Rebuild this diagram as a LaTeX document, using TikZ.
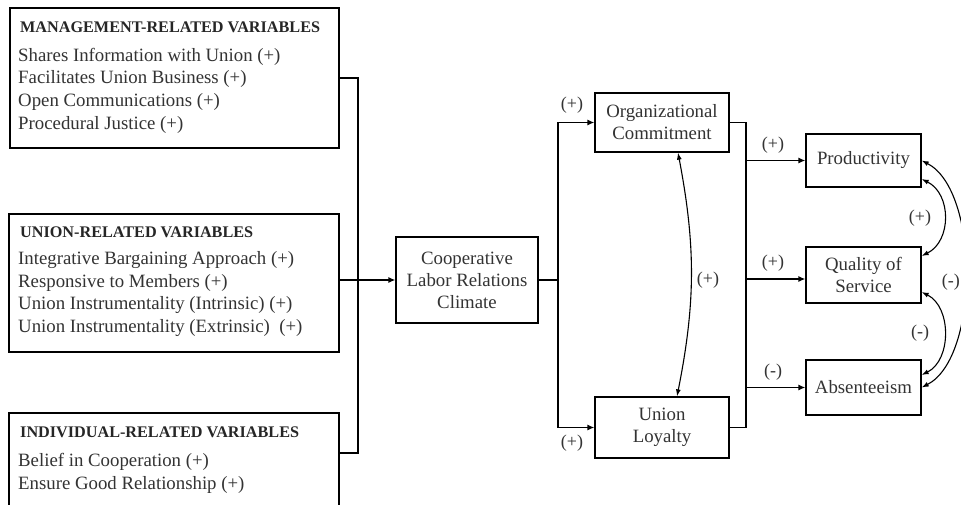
\documentclass[tikz,border=0pt]{standalone}
\usepackage{fontspec}
\setmainfont{Liberation Serif}
\usetikzlibrary{arrows.meta}
\begin{document}
\begin{tikzpicture}[x=1pt,y=-1pt,
 box/.style={draw, line width=1.3pt, inner sep=0pt},
 txt/.style={font=\fontsize{18.8}{22.6}\selectfont, text=black!80, inner sep=0pt, align=left},
 ttl/.style={font=\fontsize{16.2}{18}\selectfont\bfseries, text=black!85, inner sep=0pt},
 ctxt/.style={font=\fontsize{18.8}{22}\selectfont, text=black!80, align=center},
 lbl/.style={font=\fontsize{18}{20}\selectfont, text=black!80, inner sep=0pt},
 conn/.style={line width=1.3pt},
 arr/.style={line width=1.3pt, -{Latex[length=7pt,width=6pt]}},
 darr/.style={line width=1.1pt, {Latex[length=7pt,width=5pt]}-{Latex[length=7pt,width=5pt]}},
]
\useasboundingbox (0,0) rectangle (961,505);
\fill[white] (0,0) rectangle (961,505);

% left boxes
\node[box, minimum width=329pt, minimum height=140pt] (mgmt) at (174.5,78) {};
\node[ttl, anchor=west] (mgmtt) at (20,27) {MANAGEMENT-RELATED VARIABLES};
\node[txt, anchor=west] (mgmtl) at (18,90.5) {Shares Information with Union (+)\\Facilitates Union Business (+)\\Open Communications (+)\\Procedural Justice (+)};

\node[box, minimum width=330pt, minimum height=138pt] (union) at (174,283) {};
\node[ttl, anchor=west] (uniont) at (20,232) {UNION-RELATED VARIABLES};
\node[txt, anchor=west] (unionl) at (18,294) {Integrative Bargaining Approach (+)\\Responsive to Members (+)\\Union Instrumentality (Intrinsic) (+)\\Union Instrumentality (Extrinsic)\ \ (+)};

\node[box, minimum width=330pt, minimum height=107pt] (ind) at (174,466.5) {};
\node[ttl, anchor=west] (indt) at (20,432) {INDIVIDUAL-RELATED VARIABLES};
\node[txt, anchor=west] (indl) at (18,473.5) {Belief in Cooperation (+)\\Ensure Good Relationship (+)};

% middle
\node[box, ctxt, minimum width=142pt, minimum height=86pt] (clr) at (467,280) {Cooperative\\Labor Relations\\Climate};
\node[box, ctxt, minimum width=134pt, minimum height=59pt] (oc) at (662,122.5) {Organizational\\Commitment};
\node[box, ctxt, minimum width=134pt, minimum height=61pt] (ul) at (662,427.5) {Union\\Loyalty};

% right
\node[box, ctxt, minimum width=115pt, minimum height=53pt] (prod) at (863.5,160.5) {Productivity};
\node[box, ctxt, minimum width=115pt, minimum height=56pt] (qual) at (863.5,275) {Quality of\\Service};
\node[box, ctxt, minimum width=115pt, minimum height=55pt] (abs) at (863.5,387.5) {Absenteeism};

% left connectors
\coordinate (jm) at (358,78);
\coordinate (ji) at (358,453);
\draw[conn] (mgmt.east) -- (jm) -- (ji) -- ([yshift=13.5pt]ind.east);
\draw[arr] (union.east |- clr.west) -- (clr.west);

% middle connectors
\coordinate (jl) at (558,280);
\draw[conn] (clr.east) -- (jl);
\draw[arr] (jl) |- (oc.west);
\draw[arr] (jl) |- (ul.west);
\draw[darr] ([xshift=16pt]oc.south) to[bend left=11] ([xshift=15pt]ul.north);

% right connectors
\coordinate (jr) at (746,280);
\draw[conn] (oc.east) -- (oc.east -| jr) -- (ul.east -| jr) -- (ul.east);
\draw[arr] (prod.west -| jr) -- (prod.west);
\draw[arr] (jr |- 0,279) -- (qual.west |- 0,279);
\draw[arr] (abs.west -| jr) -- (abs.west);
\draw[darr] ([yshift=-18.5pt]prod.east) .. controls +(30,15) and +(30,-15) .. ([yshift=19pt]qual.east);
\draw[darr] ([yshift=-17pt]qual.east) .. controls +(30,15) and +(30,-15) .. ([yshift=12.5pt]abs.east);
\draw[darr] (prod.east) .. controls +(58,30) and +(58,-30) .. (abs.east);

% labels
\node[lbl] (l1) at (572,105) {(+)};
\node[lbl] (l2) at (572,443) {(+)};
\node[lbl] (l3) at (708,280) {(+)};
\node[lbl] (l4) at (773,145) {(+)};
\node[lbl] (l5) at (773,263) {(+)};
\node[lbl] (l6) at (773,372) {(-)};
\node[lbl] (l7) at (920,218) {(+)};
\node[lbl] (l8) at (920,333) {(-)};
\node[lbl, anchor=east] (l9) at (960,282) {(-)};
\end{tikzpicture}
\end{document}
